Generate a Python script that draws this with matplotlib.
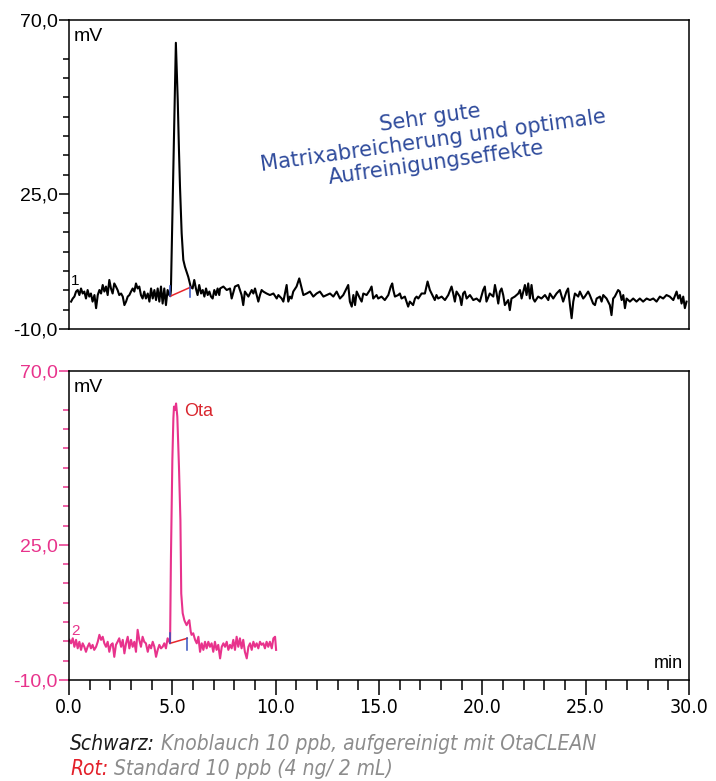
import matplotlib.pyplot as plt
from matplotlib.ticker import FixedLocator

# Zeiten (min) und Signal (mV) - Knoblauch 10 ppb, aufgereinigt (schwarz)
t_schwarz = [0.10, 0.18, 0.26, 0.34, 0.42, 0.50, 0.58, 0.66, 0.74, 0.82, 0.90, 0.98, 1.06, 1.14, 1.23,
             1.31, 1.39, 1.47, 1.55, 1.63, 1.71, 1.79, 1.87, 1.95, 2.03, 2.11, 2.19, 2.27, 2.35, 2.43,
             2.52, 2.60, 2.68, 2.76, 2.84, 2.92, 3.00, 3.08, 3.16, 3.24, 3.32, 3.40, 3.48, 3.56, 3.64,
             3.72, 3.81, 3.89, 3.97, 4.05, 4.13, 4.21, 4.29, 4.37, 4.45, 4.53, 4.61, 4.69, 4.77, 4.85,
             # Peak
             4.90, 4.93, 5.17, 5.26, 5.32, 5.37, 5.45, 5.53, 5.61, 5.69, 5.77, 5.89,
             5.98, 6.06, 6.14, 6.22, 6.30, 6.39, 6.47, 6.55, 6.63, 6.71, 6.79, 6.87, 6.95, 7.03, 7.11,
             7.19, 7.27, 7.31, 7.47, 7.63, 7.79, 7.87, 8.03, 8.19, 8.35, 8.43, 8.51, 8.68, 8.84, 8.92,
             9.00, 9.16, 9.24, 9.32, 9.40, 9.56, 9.72, 9.89, 10.05, 10.13, 10.29, 10.37, 10.45, 10.53,
             10.61, 10.69, 10.77, 10.85, 11.01, 11.14, 11.26, 11.34, 11.50, 11.66, 11.82, 11.98, 12.14,
             12.31, 12.47, 12.63, 12.79, 12.95, 13.11, 13.27, 13.43, 13.51, 13.59, 13.68, 13.76, 13.84,
             13.92, 14.08, 14.16, 14.24, 14.40, 14.56, 14.64, 14.72, 14.88, 14.96, 15.12, 15.28, 15.45,
             15.57, 15.64, 15.69, 15.77, 15.93, 16.01, 16.09, 16.25, 16.33, 16.41, 16.49, 16.65, 16.74,
             16.82, 16.90, 17.06, 17.22, 17.35, 17.46, 17.62, 17.70, 17.78, 17.86, 18.03, 18.19, 18.35,
             18.51, 18.59, 18.67, 18.75, 18.91, 18.99, 19.07, 19.15, 19.24, 19.40, 19.56, 19.72, 19.88,
             20.04, 20.12, 20.20, 20.36, 20.53, 20.61, 20.69, 20.77, 20.85, 20.93, 21.01, 21.09, 21.25,
             21.33, 21.41, 21.57, 21.74, 21.82, 21.90, 22.06, 22.14, 22.22, 22.30, 22.38, 22.46, 22.54,
             22.70, 22.86, 23.03, 23.19, 23.27, 23.43, 23.59, 23.75, 23.91, 24.07, 24.15, 24.24, 24.32,
             24.40, 24.48, 24.64, 24.72, 24.88, 24.96, 25.12, 25.20, 25.36, 25.45, 25.53, 25.69, 25.77,
             25.85, 26.01, 26.17, 26.25, 26.33, 26.41, 26.57, 26.65, 26.74, 26.82, 26.90, 26.98, 27.14,
             27.30, 27.46, 27.62, 27.78, 27.95, 28.11, 28.27, 28.43, 28.59, 28.75, 28.91, 29.07, 29.24,
             29.40, 29.48, 29.56, 29.64, 29.72, 29.80, 29.88]
mv_schwarz = [-2.9, -2.1, -1.6, -0.3, 0.1, -1.2, 0.5, -0.8, -0.3, -2.1, 0.1, -1.6, -0.8, -2.9, -1.2,
              -4.6, -1.2, 0.1, -0.8, 1.4, -0.3, 1.0, -1.2, 2.7, 0.5, -0.8, 1.8, 1.0, 0.1, -1.2,
              -0.8, -1.6, -3.8, -2.9, -1.6, -1.2, -0.3, 0.5, -0.3, 1.8, 0.5, 1.0, -1.2, -2.1, -0.3,
              -2.1, -0.8, -2.9, 0.5, -2.1, 0.1, -2.5, 0.5, -2.9, 1.0, -3.4, 0.5, -3.8, 0.1, -1.2,
              -1.5, 0.0, 64.1, 49.3, 36.3, 26.8, 14.8, 7.9, 6.1, 4.8, 3.5, 0.9,
              0.5, 2.7, 0.5, -1.2, 1.4, -0.8, 0.1, -1.6, 0.5, -1.2, -0.3, -1.6, -2.1, 0.1, -1.2,
              0.5, -1.2, 0.5, 1.0, 0.1, 0.5, -2.1, 1.0, 1.4, -1.2, -3.8, -0.3, -1.6, 0.1, -0.8,
              0.5, -2.9, -1.2, 0.1, -0.3, -0.8, -1.2, -0.8, -2.1, -1.2, -2.1, -2.9, -0.8, 1.4,
              -2.9, -1.6, -2.1, -0.3, 1.0, 3.1, 0.5, -1.2, -0.8, -0.3, -1.6, -0.8, -0.3,
              -1.6, -1.2, -0.8, -1.6, -0.3, -2.1, -1.2, 0.5, 1.4, -2.9, -4.2, -1.2, -3.8,
              -0.3, -2.1, -2.9, -0.8, -1.2, 0.1, 1.0, -2.1, -1.2, -2.1, -1.6, -2.5, -1.2,
              1.0, 1.8, 0.1, -1.6, -1.2, -0.8, -2.1, -1.6, -2.9, -4.2, -2.9, -3.8, -2.1,
              -1.6, -2.1, -0.8, -0.8, 2.3, 0.1, -1.6, -2.5, -1.2, -2.1, -1.6, -2.5, -1.2,
              1.0, -0.8, -2.9, -0.3, -1.6, -3.8, -0.8, -0.3, -2.1, -1.2, -2.5, -2.1, -2.9,
              0.1, 1.0, -2.9, -0.8, -1.6, 1.4, -0.8, -3.4, -0.3, 0.5, -1.2, -3.8, -2.5,
              -5.1, -2.1, -1.6, -0.8, 0.1, -2.1, 1.4, -1.2, 1.8, -2.1, 1.4, -2.1, -2.9,
              -1.6, -2.1, -1.2, -2.5, -0.8, -2.1, -0.8, 0.1, -2.9, -0.3, 0.5, -3.8, -7.2,
              -2.9, -0.8, -1.6, -0.3, -2.1, -1.6, -0.3, -1.2, -3.4, -3.8, -2.1, -1.6, -2.9,
              -1.2, -2.1, -3.8, -6.4, -2.1, -1.6, 0.1, -0.3, -2.5, -1.2, -4.6, -2.1, -2.9,
              -2.1, -2.9, -2.1, -2.9, -2.1, -2.5, -2.1, -2.9, -1.6, -2.1, -1.2, -1.6, -2.5,
              -0.3, -2.1, -1.2, -3.4, -1.6, -4.6, -2.9]

# Standard 10 ppb (4 ng/ 2 mL) (rot)
t_rot = [0.02, 0.10, 0.18, 0.26, 0.34, 0.42, 0.50, 0.58, 0.66, 0.74, 0.82, 0.90, 0.98, 1.06, 1.14,
         1.22, 1.31, 1.39, 1.47, 1.55, 1.63, 1.71, 1.79, 1.87, 1.95, 2.03, 2.11, 2.19, 2.27, 2.35,
         2.43, 2.52, 2.60, 2.68, 2.76, 2.84, 2.92, 3.00, 3.08, 3.16, 3.24, 3.32, 3.40, 3.48, 3.56,
         3.64, 3.72, 3.81, 3.89, 3.97, 4.05, 4.13, 4.21, 4.29, 4.37, 4.45, 4.53, 4.61, 4.69, 4.77,
         4.85,
         # Peak
         4.89, 4.93, 5.00, 5.05, 5.08, 5.13, 5.18, 5.24, 5.32, 5.39, 5.43, 5.50, 5.58, 5.61, 5.69,
         5.77, 5.82, 5.89, 5.93, 6.01, 6.10, 6.18, 6.26, 6.34, 6.42, 6.50, 6.58, 6.66, 6.74, 6.82,
         6.90, 6.98, 7.06, 7.14, 7.22, 7.31, 7.39, 7.47, 7.55, 7.63, 7.71, 7.79, 7.87, 7.95, 8.03,
         8.11, 8.19, 8.27, 8.35, 8.43, 8.51, 8.60, 8.68, 8.76, 8.84, 8.92, 9.00, 9.08, 9.16, 9.24,
         9.32, 9.40, 9.48, 9.56, 9.64, 9.72, 9.81, 9.89, 9.97, 10.02]
mv_rot = [0.4, -0.5, 0.8, -1.4, 0.4, -1.8, -0.1, -2.2, -0.5, -1.4, -2.7, -1.4, -0.5, -1.8, -0.9,
          -2.2, -1.4, -0.1, 1.7, 0.4, 1.2, -0.5, -1.4, -0.1, -2.7, -0.9, -0.5, -4.0, -0.9, -0.1,
          0.8, -1.4, 0.4, -3.1, -0.5, 1.2, -1.8, 0.4, -1.4, -0.1, -2.7, 3.0, 0.4, -1.4, 1.2,
          -0.1, -0.5, -2.7, -0.9, -1.8, -0.1, -1.4, -4.0, -2.2, -0.9, -1.8, -1.4, -0.5, -1.8, 0.8,
          -0.1,
          -0.5, 21.1, 47.0, 57.8, 60.8, 59.9, 61.6, 58.2, 45.2, 31.4, 12.4, 7.3, 5.5, 5.1, 4.2,
          5.1, 5.5, 2.5, 1.7, 2.1, 0.4, -0.5, 1.2, -2.7, -0.5, -2.2, -0.1, -1.8, -0.1, -1.4,
          -0.5, -2.7, -0.1, -2.2, -0.9, -4.4, -1.4, -0.5, -1.4, -0.1, -2.2, -0.9, -1.8, 0.4, -2.2,
          1.2, -1.4, 0.8, -1.8, 0.4, -2.7, -4.4, -1.4, -0.5, -2.2, -0.1, -1.4, -0.5, -1.8, -0.1,
          -0.9, -0.5, -1.8, -0.1, -1.4, -0.1, -1.8, 0.8, 1.2, -2.2]

# Integrationsgrenzen (Basislinie) der Peaks
basis_schwarz_t = [4.90, 5.87]
basis_schwarz_mv = [-1.5, 0.8]
basis_rot_t = [4.89, 5.72]
basis_rot_mv = [-0.5, 0.8]

rosa = '#e8338c'
blau_text = '#2f4b9c'
marker_blau = '#3552c0'
rot_linie = '#e8262c'

fig = plt.figure(figsize=(7.16, 7.81), dpi=100)
ax1 = fig.add_axes([0.0964, 0.5787, 0.8659, 0.3957])
ax2 = fig.add_axes([0.0964, 0.1293, 0.8659, 0.3956])

ax1.plot(t_schwarz, mv_schwarz, color='black', lw=1.5)
ax2.plot(t_rot, mv_rot, color=rosa, lw=1.5)

# Basislinien und Markierungen
ax1.plot(basis_schwarz_t, basis_schwarz_mv, color=rot_linie, lw=1.1)
ax1.plot([basis_schwarz_t[0]] * 2, [basis_schwarz_mv[0], basis_schwarz_mv[0] + 2.6], color=marker_blau, lw=1.1)
ax1.plot([basis_schwarz_t[1]] * 2, [basis_schwarz_mv[1], basis_schwarz_mv[1] - 2.4], color=marker_blau, lw=1.1)
ax2.plot(basis_rot_t, basis_rot_mv, color=rot_linie, lw=1.1)
ax2.plot([basis_rot_t[0]] * 2, [basis_rot_mv[0], basis_rot_mv[0] + 2.6], color=marker_blau, lw=1.1)
ax2.plot([basis_rot_t[1]] * 2, [basis_rot_mv[1], basis_rot_mv[1] - 3.0], color=marker_blau, lw=1.1)

minor_y = [v for v in range(-5, 65, 5) if v != 25]
for ax, farbe in [(ax1, 'black'), (ax2, rosa)]:
    ax.set_xlim(0, 30)
    ax.set_ylim(-10, 70)
    ax.yaxis.set_major_locator(FixedLocator([-10, 25, 70]))
    ax.set_yticklabels(['-10,0', '25,0', '70,0'], family='Liberation Sans', fontsize=14, color=farbe)
    ax.yaxis.set_minor_locator(FixedLocator(minor_y))
    ax.tick_params(axis='y', which='major', length=7, width=1.1, color=farbe, pad=1)
    ax.tick_params(axis='y', which='minor', length=4, width=1.1, color=farbe)
    for s in ax.spines.values():
        s.set_linewidth(1.1)
    ax.text(0.008, 0.975, 'mV', transform=ax.transAxes, ha='left', va='top',
            family='Liberation Sans', fontsize=14)

ax1.tick_params(axis='x', which='both', bottom=False, labelbottom=False)

ax2.xaxis.set_major_locator(FixedLocator(range(0, 31, 5)))
ax2.xaxis.set_minor_locator(FixedLocator(range(0, 31, 1)))
ax2.set_xticklabels([f'{v:.1f}' for v in range(0, 31, 5)], family='DejaVu Sans',
                    fontstretch='condensed', fontsize=14)
ax2.tick_params(axis='x', which='major', length=11, width=1.1, pad=2)
ax2.tick_params(axis='x', which='minor', length=7, width=1.1)
ax2.text(0.99, 0.025, 'min', transform=ax2.transAxes, ha='right', va='bottom',
         family='Liberation Sans', fontsize=13)

ax1.text(0.1, 2.4, '1', ha='left', va='center', fontsize=11, family='Liberation Sans')
ax2.text(0.1, 2.6, '2', ha='left', va='center', fontsize=11, family='Liberation Sans', color=rosa)
ax2.text(5.56, 59.4, 'Ota', ha='left', va='center', fontsize=13, family='Liberation Sans', color='#d9262e')

ax1.text(17.6, 38.8, 'Sehr gute\nMatrixabreicherung und optimale\nAufreinigungseffekte',
         ha='center', va='center', rotation=8, rotation_mode='anchor', fontsize=15,
         color=blau_text, linespacing=1.15)

# Legende unter der Grafik
stil = dict(family='DejaVu Sans', fontstretch='condensed', style='italic', fontsize=15)
t1 = fig.text(0.098, 0.040, 'Schwarz:', color='#1a1a1a', ha='left', va='baseline', **stil)
ax2.annotate(' Knoblauch 10 ppb, aufgereinigt mit OtaCLEAN', xy=(1, 0), xycoords=t1,
             ha='left', va='bottom', color='#8c8c8c', annotation_clip=False, **stil)
t2 = fig.text(0.098, 0.008, 'Rot:', color='#e3202a', ha='left', va='baseline', **stil)
ax2.annotate(' Standard 10 ppb (4 ng/ 2 mL)', xy=(1, 0), xycoords=t2,
             ha='left', va='bottom', color='#8c8c8c', annotation_clip=False, **stil)

fig.savefig('out.png', dpi=100)
